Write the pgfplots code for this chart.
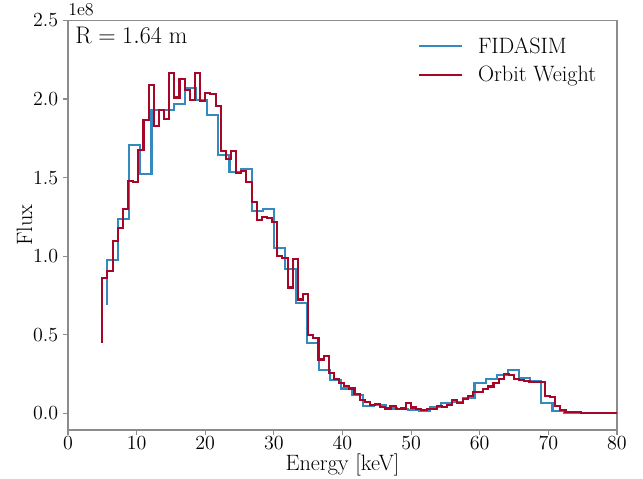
\documentclass[border=0pt]{standalone}
\usepackage{pgfplots}
\pgfplotsset{compat=1.18}
\definecolor{cblue}{HTML}{348ABD}
\definecolor{cred}{HTML}{A60628}
\definecolor{spinec}{HTML}{8C8C8C}
\begin{document}
\begin{tikzpicture}
\path[use as bounding box] (-48.96pt,-35.28pt) rectangle (414pt,309.6pt);
\begin{axis}[
  at={(0,0)}, anchor=south west,
  scale only axis, width=395.28pt, height=294.84pt,
  clip mode=individual,
  xmin=0, xmax=80, ymin=-0.107, ymax=2.5,
  xtick={0,10,20,30,40,50,60,70,80},
  ytick={0,0.5,1,1.5,2,2.5},
  scaled y ticks=false,
  yticklabel style={/pgf/number format/.cd,fixed,fixed zerofill,precision=1},
  xticklabel style={yshift=2pt},
  tick label style={font=\fontsize{13.5}{16}\selectfont, black},
  xtick pos=bottom, ytick pos=left, tick align=outside,
  major tick length=3.5pt,
  axis line style={spinec, line width=0.8pt},
  every tick/.style={spinec, line width=0.8pt},
  xlabel={Energy [keV]}, ylabel={Flux},
  label style={font=\fontsize{16}{19}\selectfont},
  xlabel style={at={(axis description cs:0.5,0)}, anchor=base, yshift=-29pt},
  ylabel style={at={(axis description cs:0,0.5)}, anchor=base, yshift=25.9pt},
  legend style={draw=none, fill=none, at={(axis description cs:0.630,0.902)}, anchor=west,
    font=\fontsize{16}{19}\selectfont, column sep=9.5pt, row sep=6pt,
    nodes={inner sep=1pt}},
  legend cell align=left,
  legend image code/.code={\draw[#1] (0pt,0pt) -- (31pt,0pt);},
]
\addplot[cblue, line width=1.5pt, const plot mark right] coordinates {
(5.68,0.69) (7.30,0.977) (8.93,1.234) (10.55,1.71) (12.17,1.52) (13.80,1.93)
(15.42,1.93) (17.04,1.966) (18.66,2.07) (20.29,1.994) (21.91,1.90) (23.53,1.643)
(25.16,1.537) (26.78,1.554) (28.40,1.287) (30.03,1.30) (31.65,1.049) (33.27,0.92)
(34.89,0.70) (36.52,0.444) (38.14,0.274) (39.76,0.21) (41.39,0.157) (43.01,0.115)
(44.63,0.045) (46.26,0.05) (47.88,0.03) (49.50,0.024) (51.12,0.02) (52.75,0.013)
(54.37,0.04) (55.99,0.064) (57.62,0.07) (59.24,0.098) (60.86,0.195) (62.49,0.217)
(64.11,0.242) (65.73,0.274) (67.35,0.225) (68.98,0.204) (70.60,0.065) (72.22,0.013)
(73.85,0.004) (75.47,0.002) (77.09,0.002) (78.72,0.001) (80.34,0.001)
};
\addlegendentry{FIDASIM}
\addplot[cred, line width=1.5pt, const plot mark right] coordinates {
(5,0.45) (5.75,0.86) (6.5,0.905) (7.25,1.095) (8,1.18) (8.75,1.30) (9.5,1.48)
(10.25,1.473) (11,1.675) (11.75,1.866) (12.5,2.09) (13.25,1.83) (14,1.93)
(14.75,1.87) (15.5,2.164) (16.25,2.01) (17,2.125) (17.75,2.06) (18.5,1.994)
(19.25,2.164) (20,1.99) (20.75,2.04) (21.5,2.03) (22.25,1.955) (23,1.67)
(23.75,1.62) (24.5,1.67) (25.25,1.527) (26,1.54) (26.75,1.473) (27.5,1.346)
(28.25,1.23) (29,1.25) (29.75,1.24) (30.5,1.22) (31.25,1.0) (32,0.99)
(32.75,0.80) (33.5,0.98) (34.25,0.724) (35,0.758) (35.75,0.497) (36.5,0.476)
(37.25,0.342) (38,0.363) (38.75,0.253) (39.5,0.215) (40.25,0.19) (41,0.172)
(41.75,0.157) (42.5,0.121) (43.25,0.083) (44,0.072) (44.75,0.05) (45.5,0.06)
(46.25,0.04) (47,0.03) (47.75,0.044) (48.5,0.024) (49.25,0.03) (50,0.062)
(50.75,0.036) (51.5,0.024) (52.25,0.02) (53,0.024) (53.75,0.024) (54.5,0.044)
(55.25,0.04) (56,0.05) (56.75,0.083) (57.5,0.066) (58.25,0.09) (59,0.108)
(59.75,0.136) (60.5,0.136) (61.25,0.153) (62,0.17) (62.75,0.19) (63.5,0.22)
(64.25,0.248) (65,0.242) (65.75,0.215) (66.5,0.21) (67.25,0.204) (68,0.20)
(68.75,0.20) (69.5,0.20) (70.25,0.11) (71,0.105) (71.75,0.046) (72.5,0.019)
(73.25,0.008) (74,0.008) (74.75,0.006) (75.5,0.003) (76.25,0.002) (77,0.002)
(77.75,0.002) (78.5,0.002) (79.25,0.002) (80,0.002)
};
\addlegendentry{Orbit Weight}
\node[anchor=base west, inner sep=0pt, font=\fontsize{17}{20}\selectfont] at (axis description cs:0.0128,0.945) {$\mathrm{R = 1.64\ m}$};
\node[anchor=base west, font=\fontsize{13}{15}\selectfont, inner sep=0pt] at (axis description cs:0,1.013) {1e8};
\end{axis}
\end{tikzpicture}
\end{document}
